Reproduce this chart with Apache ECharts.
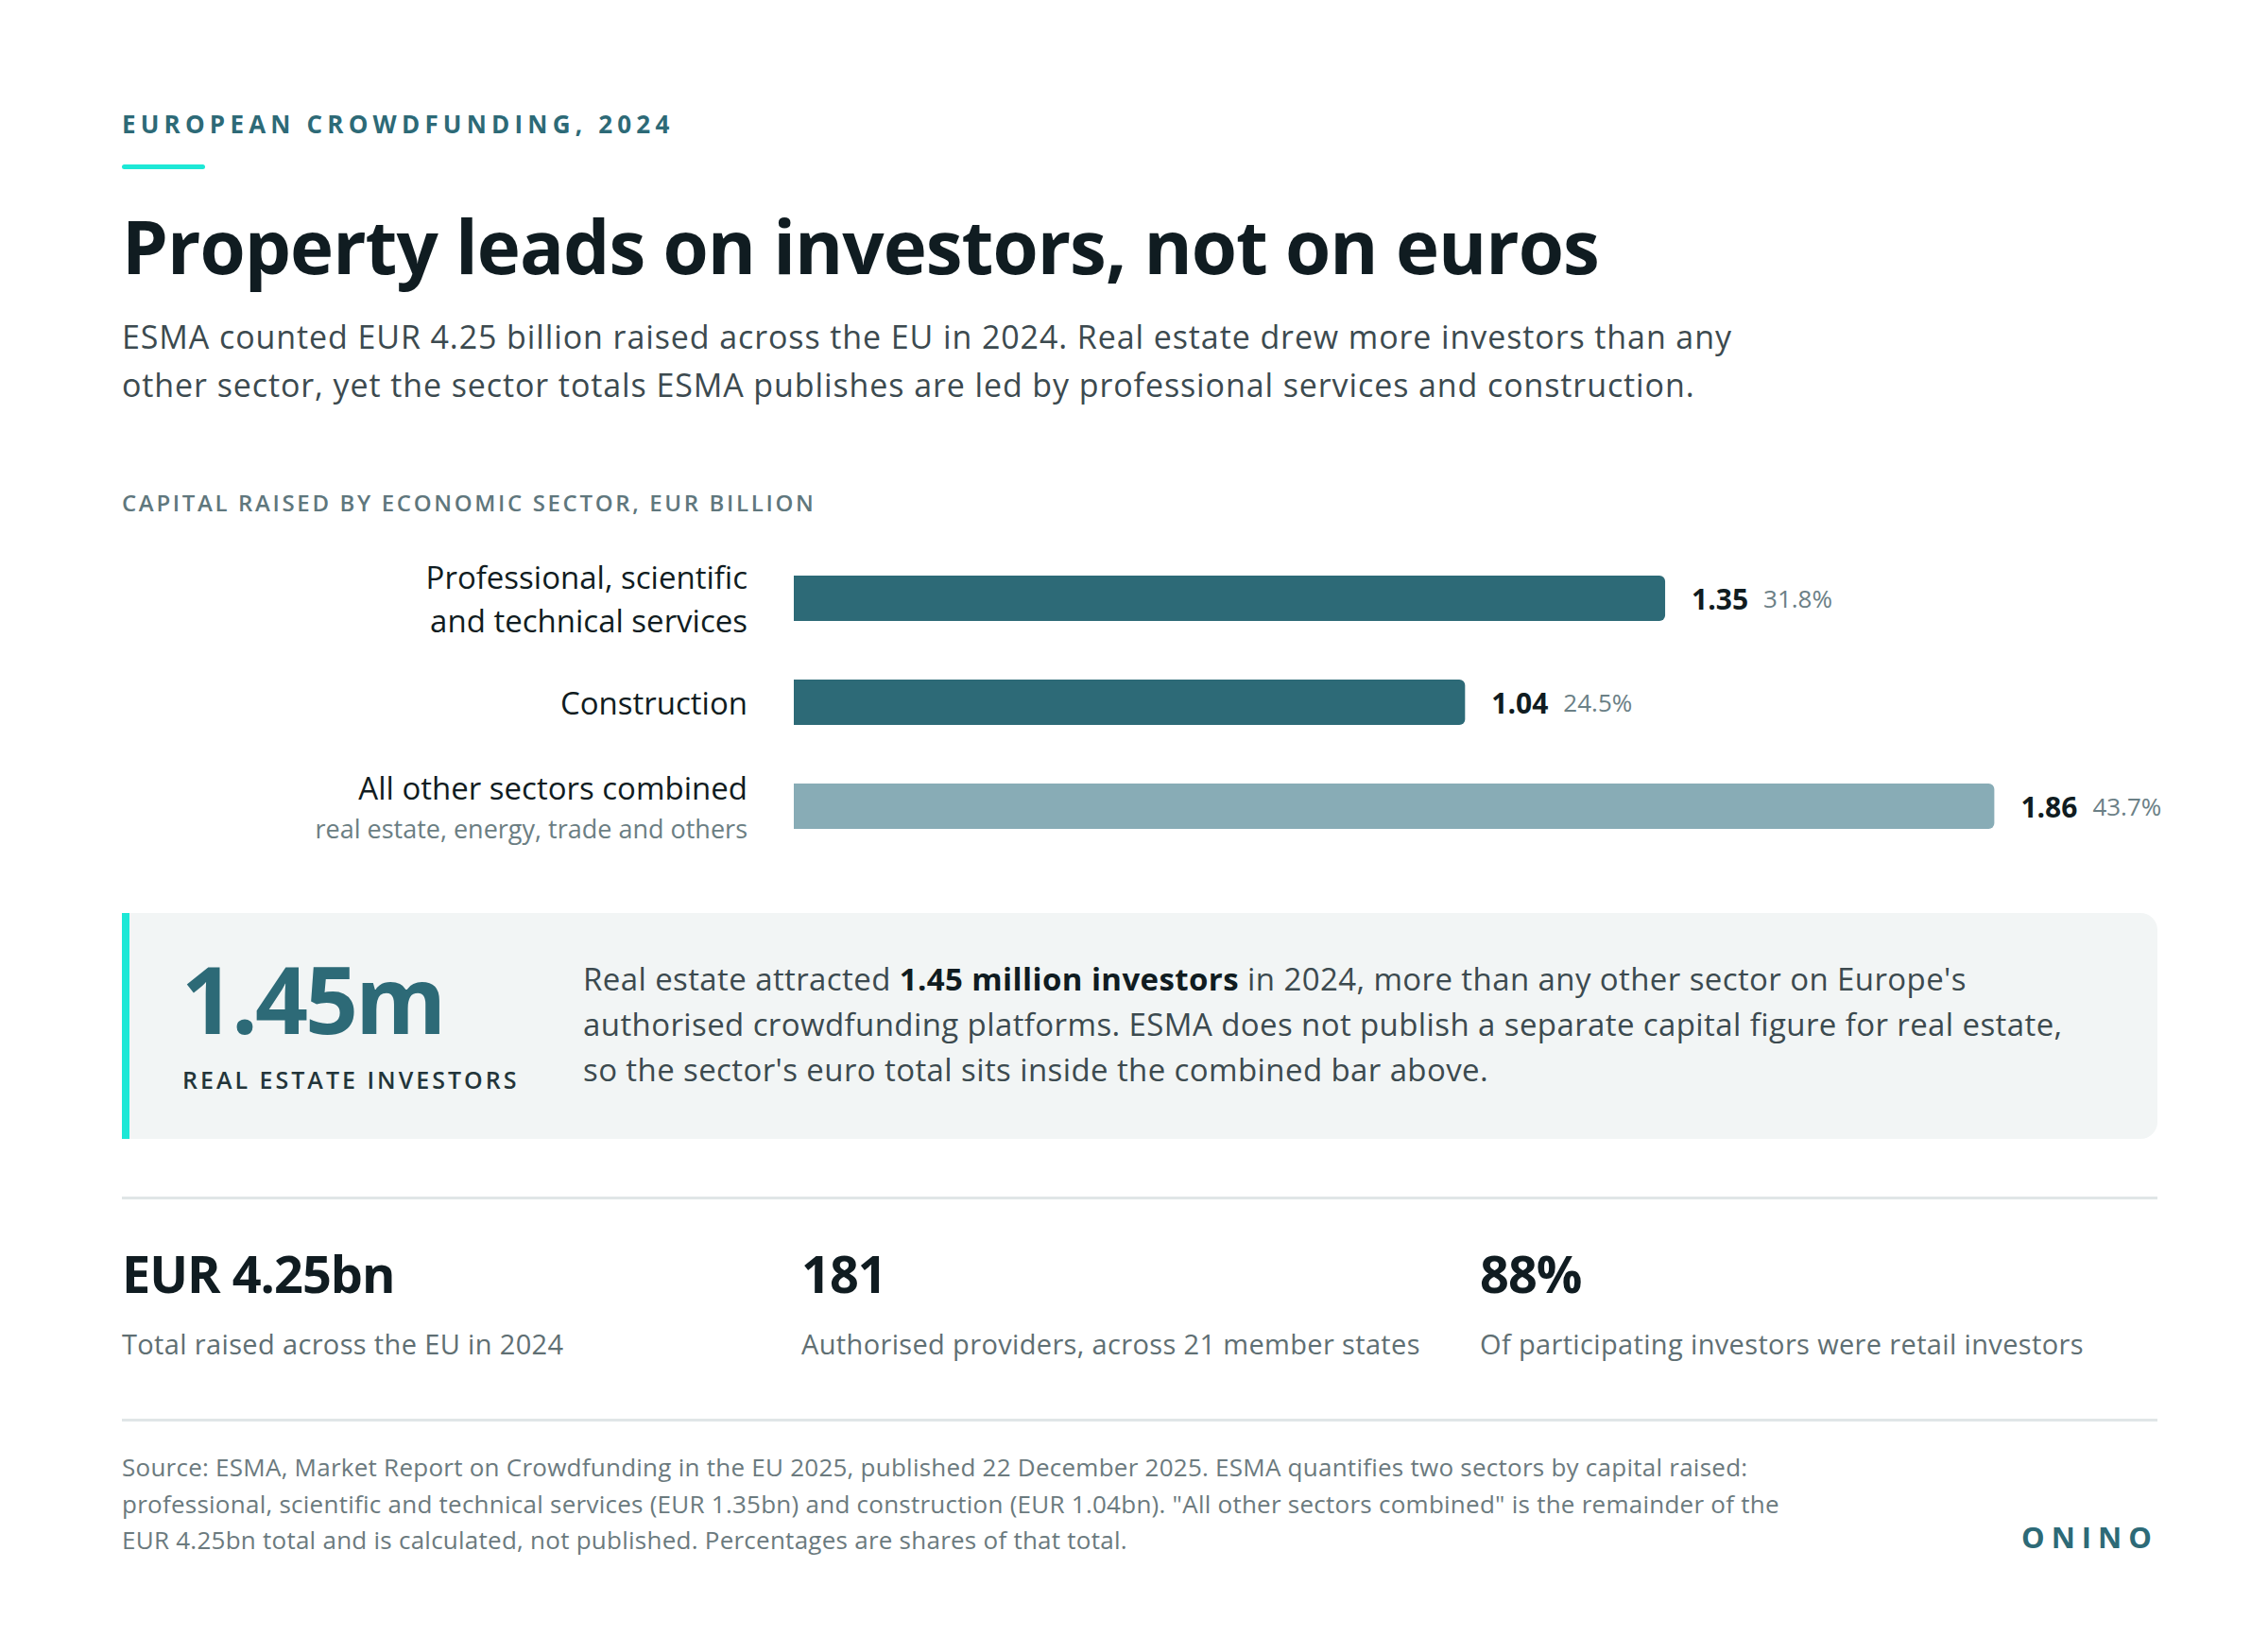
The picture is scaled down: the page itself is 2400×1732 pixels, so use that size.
<!DOCTYPE html>
<html>
<head>
<meta charset="utf-8">
<script src="https://cdn.jsdelivr.net/npm/echarts@6/dist/echarts.min.js"></script>
<style>
  html, body { margin:0; padding:0; background:#ffffff; }
  body { width:2400px; height:1732px; position:relative; overflow:hidden; font-family:"Open Sans", "Noto Sans", sans-serif; }
  #chart { position:absolute; left:0; top:0; width:2400px; height:1732px; z-index:1; }
  .t { position:absolute; white-space:nowrap; z-index:2; }
  .kicker { left:129px; top:115px; font-size:26px; line-height:32px; font-weight:700; letter-spacing:5.2px; color:#2d6a77; }
  .accent { position:absolute; left:129px; top:174px; width:88px; height:5px; border-radius:3px; background:#1de8d6; z-index:2; }
  .title { left:129px; top:217px; font-size:78px; line-height:86px; font-weight:700; color:#101c21; letter-spacing:-1px; }
  .sub { left:129px; top:331px; font-size:34px; line-height:51px; color:#3c4a4f; letter-spacing:0.9px; }
  .section { left:129px; top:517px; font-size:24px; line-height:30px; font-weight:600; letter-spacing:2.65px; color:#5f777d; }
  .callout { position:absolute; left:129px; top:966px; width:2146px; height:239px; background:#f2f5f5; border-left:8px solid #1de8d6; border-radius:0 18px 18px 0; z-index:0; }
  .big { left:192px; top:1001px; font-size:98px; line-height:110px; font-weight:700; color:#2d6a77; letter-spacing:-3px; }
  .biglbl { left:193px; top:1127px; font-size:25px; line-height:30px; font-weight:600; letter-spacing:3px; color:#23353a; }
  .para { left:617px; top:1012px; font-size:33px; line-height:48px; color:#3c4a4f; letter-spacing:0.4px; }
  .para b { color:#101c21; font-weight:700; }
  .rule { position:absolute; left:129px; width:2154px; height:3px; background:#e0e6e7; z-index:2; }
  .stat { top:1315px; font-size:54px; line-height:64px; font-weight:700; color:#101c21; letter-spacing:-1px; }
  .statlbl { top:1404px; font-size:29px; line-height:36px; color:#5f6f73; letter-spacing:0.35px; }
  .foot { left:129px; top:1533px; font-size:26px; line-height:38.5px; color:#6b7a7e; letter-spacing:0.25px; }
  .brand { right:116px; top:1608px; font-size:31px; line-height:36px; font-weight:700; letter-spacing:7px; color:#2d6a77; }
</style>
</head>
<body>
<div id="chart"></div>

<div class="t kicker">EUROPEAN CROWDFUNDING, 2024</div>
<div class="accent"></div>
<div class="t title">Property leads on investors, not on euros</div>
<div class="t sub">ESMA counted EUR 4.25 billion raised across the EU in 2024. Real estate drew more investors than any<br>other sector, yet the sector totals ESMA publishes are led by professional services and construction.</div>
<div class="t section">CAPITAL RAISED BY ECONOMIC SECTOR, EUR BILLION</div>

<div class="callout"></div>
<div class="t big">1.45m</div>
<div class="t biglbl">REAL ESTATE INVESTORS</div>
<div class="t para">Real estate attracted <b>1.45 million investors</b> in 2024, more than any other sector on Europe's<br>authorised crowdfunding platforms. ESMA does not publish a separate capital figure for real estate,<br>so the sector's euro total sits inside the combined bar above.</div>

<div class="rule" style="top:1266px"></div>
<div class="t stat" style="left:129px">EUR 4.25bn</div>
<div class="t stat" style="left:848px">181</div>
<div class="t stat" style="left:1566px">88%</div>
<div class="t statlbl" style="left:129px">Total raised across the EU in 2024</div>
<div class="t statlbl" style="left:848px">Authorised providers, across 21 member states</div>
<div class="t statlbl" style="left:1566px">Of participating investors were retail investors</div>
<div class="rule" style="top:1501px"></div>

<div class="t foot">Source: ESMA, Market Report on Crowdfunding in the EU 2025, published 22 December 2025. ESMA quantifies two sectors by capital raised:<br>professional, scientific and technical services (EUR 1.35bn) and construction (EUR 1.04bn). "All other sectors combined" is the remainder of the<br>EUR 4.25bn total and is calculated, not published. Percentages are shares of that total.</div>
<div class="t brand">ONINO</div>

<script>
const categories = ['Professional, scientific\nand technical services', 'Construction', 'All other sectors combined'];
const subLabels = ['', '', 'real estate, energy, trade and others'];
const values = [1.35, 1.04, 1.86];
const shares = ['31.8%', '24.5%', '43.7%'];
const barColors = ['#2d6a77', '#2d6a77', '#88acb6'];

const chart = echarts.init(document.getElementById('chart'), null, { renderer: 'svg', width: 2400, height: 1732 });
const FONT = '"Open Sans", "Noto Sans", sans-serif';

chart.setOption({
  animation: false,
  grid: { left: 840, top: 578, width: 1366, height: 330, containLabel: false },
  xAxis: { type: 'value', min: 0, max: 2, show: false, splitLine: { show: false } },
  yAxis: {
    type: 'category', data: categories, inverse: true,
    axisLine: { show: false }, axisTick: { show: false }, splitLine: { show: false },
    axisLabel: {
      margin: 49, align: 'right',
      formatter: function (v, i) {
        const main = v.split('\n').map(s => '{m|' + s + '}').join('\n');
        return subLabels[i] ? main + '\n{s|' + subLabels[i] + '}' : main;
      },
      rich: {
        m: { fontFamily: FONT, fontSize: 33, fontWeight: 500, color: '#101c21', lineHeight: 46, align: 'right' },
        s: { fontFamily: FONT, fontSize: 27, color: '#6b7e83', lineHeight: 40, align: 'right' }
      }
    }
  },
  series: [{
    type: 'bar',
    barWidth: 48,
    data: values.map((v, i) => ({ value: v, itemStyle: { color: barColors[i], borderRadius: [0, 6, 6, 0] } })),
    label: {
      show: true, position: 'right', distance: 28,
      formatter: p => '{v|' + values[p.dataIndex].toFixed(2) + '}{p|' + shares[p.dataIndex] + '}',
      rich: {
        v: { fontFamily: FONT, fontSize: 30, fontWeight: 700, color: '#101c21' },
        p: { fontFamily: FONT, fontSize: 26, color: '#6b8086', padding: [0, 0, 0, 16] }
      }
    }
  }]
});
</script>
</body>
</html>
